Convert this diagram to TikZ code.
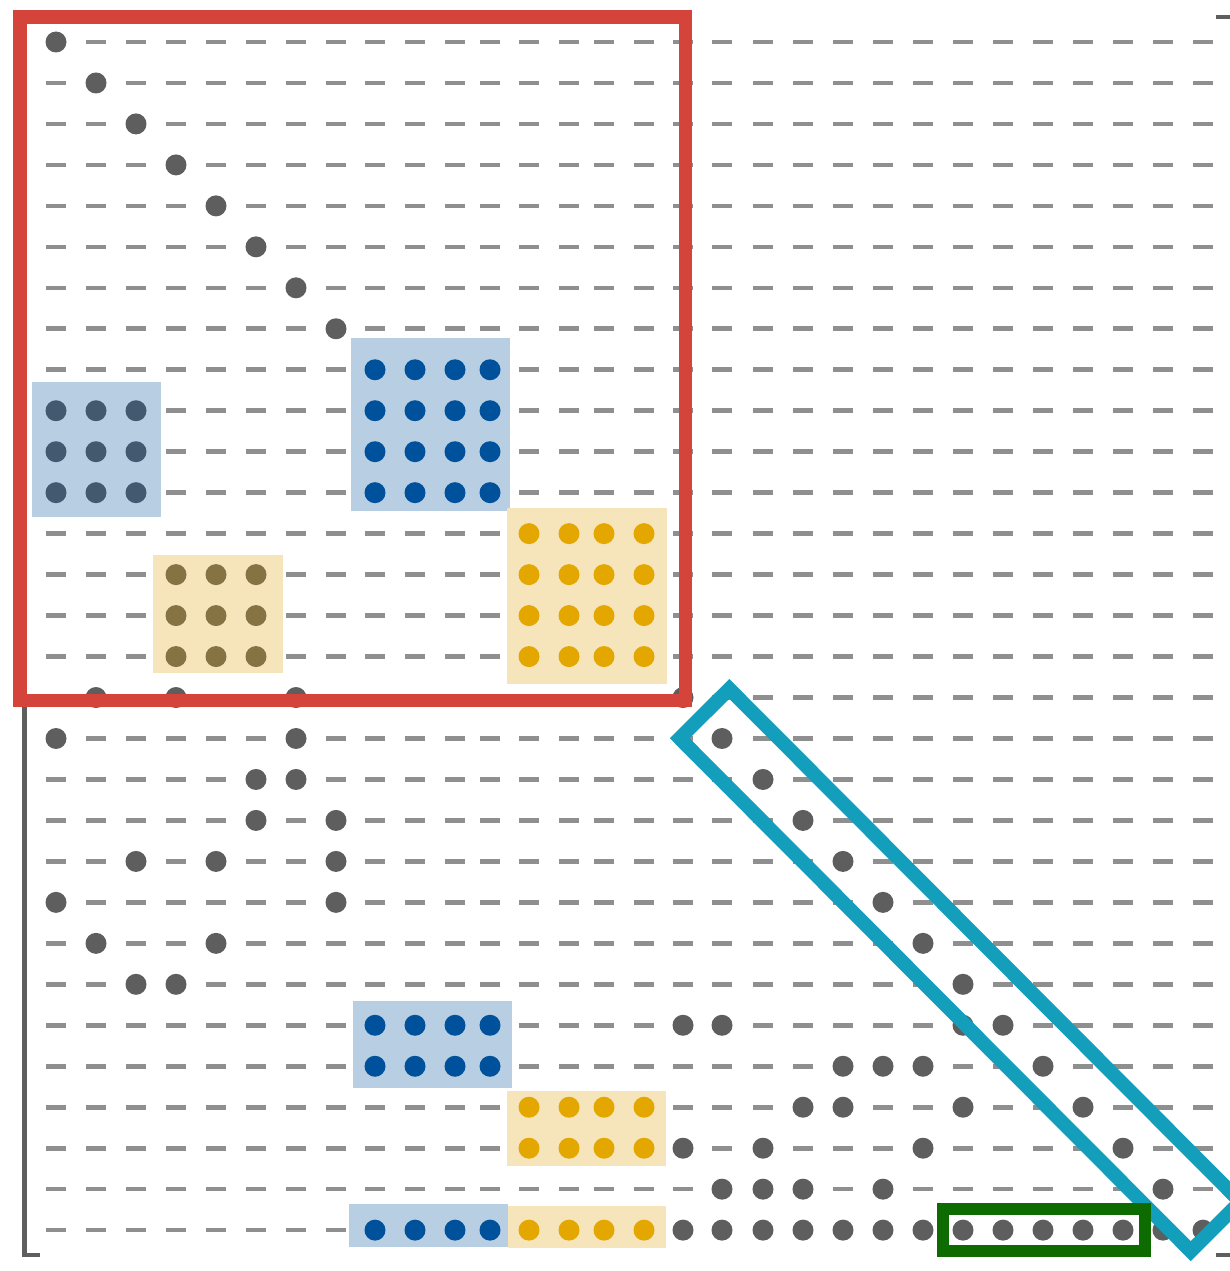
\documentclass[tikz,border=0pt]{standalone}
\usepackage{xcolor}
\usepackage{tikz}
\definecolor{dotgray}{HTML}{5E5E5E}
\definecolor{dashgray}{HTML}{8F8F8F}
\definecolor{lightblue}{HTML}{B8CEE2}
\definecolor{lightsand}{HTML}{F6E5BA}
\definecolor{deepblue}{HTML}{00519C}
\definecolor{slateblue}{HTML}{43596F}
\definecolor{amber}{HTML}{E3A700}
\definecolor{sandolive}{HTML}{857344}
\definecolor{redframe}{HTML}{D4443B}
\definecolor{tealframe}{HTML}{139EBB}
\definecolor{greenframe}{HTML}{0E6B02}

\begin{document}
\begin{tikzpicture}[x=1pt, y=-1pt,
  zeromark/.style={dashgray, line width=4.6pt},
  nzdot/.style={circle, fill=#1, minimum size=21pt, inner sep=0pt},
  nzdot/.default=dotgray,
  boxframe/.style={draw=#1, line width=13.5pt, inner sep=0pt}]
  \useasboundingbox (0,0) rectangle (1230,1271);
  \clip (0,0) rectangle (1230,1271);
  \fill[white] (0,0) rectangle (1230,1271);

  \foreach \r in {0,...,29}
    \foreach \c/\x in {0/56,1/96,2/136,3/176,4/216,5/256,6/296,7/336,8/375,9/415,
        10/455,11/490,12/529,13/569,14/604,15/644,16/683,17/722,18/763,19/803,
        20/843,21/883,22/923,23/963,24/1003,25/1043,26/1083,27/1123,28/1163,29/1203} {
      \coordinate (p\r-\c) at (\x, 42+40.97*\r);
      \draw[zeromark] (p\r-\c) ++(-10,0) -- ++(20,0);
    }

  \fill[lightblue] (351,338) rectangle (510,511);
  \fill[lightsand] (507,508) rectangle (667,684);
  \fill[lightblue] (32,382) rectangle (161,517);
  \fill[lightsand] (153,555) rectangle (283,673);
  \fill[lightblue] (353,1001) rectangle (512,1088);
  \fill[lightsand] (507,1091) rectangle (666,1166);
  \fill[lightblue] (349,1204) rectangle (508,1247);
  \fill[lightsand] (508,1206) rectangle (666,1248);

  \foreach \r/\c in {0/0,1/1,2/2,3/3,4/4,5/5,6/6,7/7,
      16/1,16/3,16/6,16/16,17/0,17/6,17/17,18/5,18/6,18/18,19/5,19/7,19/19,
      20/2,20/4,20/7,20/20,21/0,21/7,21/21,22/1,22/4,22/22,23/2,23/3,23/23,
      24/16,24/17,24/23,24/24,25/20,25/21,25/22,25/25,26/19,26/20,26/23,26/26,
      27/16,27/18,27/22,27/27,28/17,28/18,28/19,28/21,28/28}
    \node[nzdot] (d\r-\c) at (p\r-\c) {};
  \foreach \c in {16,...,29}
    \node[nzdot] (d29-\c) at (p29-\c) {};

  \foreach \r in {8,...,11}
    \foreach \c in {8,...,11}
      \node[nzdot=deepblue] (d\r-\c) at (p\r-\c) {};
  \foreach \r in {12,...,15}
    \foreach \c in {12,...,15}
      \node[nzdot=amber] (d\r-\c) at (p\r-\c) {};
  \foreach \r in {9,...,11}
    \foreach \c in {0,...,2}
      \node[nzdot=slateblue] (d\r-\c) at (p\r-\c) {};
  \foreach \r in {13,...,15}
    \foreach \c in {3,...,5}
      \node[nzdot=sandolive] (d\r-\c) at (p\r-\c) {};
  \foreach \r in {24,25,29}
    \foreach \c in {8,...,11}
      \node[nzdot=deepblue] (d\r-\c) at (p\r-\c) {};
  \foreach \r in {26,27,29}
    \foreach \c in {12,...,15}
      \node[nzdot=amber] (d\r-\c) at (p\r-\c) {};

  \draw[dotgray, line width=4.5pt] (40,17) -- (24.5,17) -- (24.5,1255) -- (40,1255);
  \draw[dotgray, line width=4.5pt] (1216,17) -- (1236,17) -- (1236,1255) -- (1216,1255);

  \node[boxframe=redframe, minimum width=665.5pt, minimum height=683.5pt] (leadblock) at (352.75,358.75) {};
  \node[boxframe=tealframe, line width=14pt, minimum width=724pt, minimum height=70pt, rotate=-45.1] (diagband) at (960,970) {};
  \node[boxframe=greenframe, line width=12.5pt, minimum width=202pt, minimum height=42pt] (lastrow) at (1044,1230) {};
\end{tikzpicture}
\end{document}
